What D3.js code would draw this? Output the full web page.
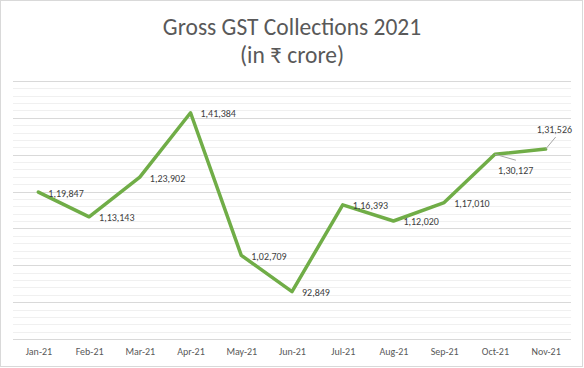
<!DOCTYPE html>
<html>
<head>
<meta charset="utf-8">
<script src="https://cdn.jsdelivr.net/npm/d3@7"></script>
<style>
  body { margin: 0; background: #fff; }
  text { font-family: Carlito, Lato, "Open Sans", sans-serif; }
</style>
</head>
<body>
<div id="wrapper"></div>
<script>
const months = ["Jan-21", "Feb-21", "Mar-21", "Apr-21", "May-21", "Jun-21", "Jul-21", "Aug-21", "Sep-21", "Oct-21", "Nov-21"];
const collections = [119847, 113143, 123902, 141384, 102709, 92849, 116393, 112020, 117010, 130127, 131526];
const titleLines = ["Gross GST Collections 2021", "(in ₹ crore)"];

// labels that Excel moved off the default "right" spot, with leader lines
const movedLabels = {
  "Oct-21": { dx: 3, dy: 16, lx: 21, ly: 6 },
  "Nov-21": { dx: -9, dy: -20, lx: 10, ly: -12 },
};

const data = months.map((m, i) => ({ month: m, value: collections[i] }));

let dimensions = {
  width: 584,
  height: 368,
  margin: { top: 81, right: 13, bottom: 29, left: 13 },
};
dimensions.boundedWidth = dimensions.width - dimensions.margin.left - dimensions.margin.right;
dimensions.boundedHeight = dimensions.height - dimensions.margin.top - dimensions.margin.bottom;

const wrapper = d3.select("#wrapper").append("svg")
  .attr("width", dimensions.width)
  .attr("height", dimensions.height);

wrapper.append("rect")
  .attr("x", 0.5).attr("y", 0.5)
  .attr("width", dimensions.width - 2).attr("height", dimensions.height - 2)
  .attr("fill", "#fff").attr("stroke", "#d9d9d9");

wrapper.append("g").selectAll("text")
  .data(titleLines)
  .join("text")
  .attr("x", dimensions.width / 2)
  .attr("y", (d, i) => 35 + i * 28)
  .attr("text-anchor", "middle")
  .attr("fill", "#595959")
  .style("font-size", "23.5px")
  .style("font-weight", 300)
  .text(d => d);

const bounds = wrapper.append("g")
  .attr("transform", `translate(${dimensions.margin.left},${dimensions.margin.top})`);

const xScale = d3.scalePoint().domain(months).range([0, dimensions.boundedWidth]).padding(0.5);
const yScale = d3.scaleLinear().domain([80000, 150000]).range([dimensions.boundedHeight, 0]);

// minor then major gridlines
bounds.append("g").selectAll("line")
  .data(d3.range(80000, 150001, 2000).filter(v => v % 10000 !== 0))
  .join("line")
  .attr("x1", 0).attr("x2", dimensions.boundedWidth)
  .attr("y1", d => Math.round(yScale(d)) + 0.5).attr("y2", d => Math.round(yScale(d)) + 0.5)
  .attr("stroke", "#f0f0f0");

bounds.append("g").selectAll("line")
  .data(yScale.ticks(7))
  .join("line")
  .attr("x1", 0).attr("x2", dimensions.boundedWidth)
  .attr("y1", d => Math.round(yScale(d)) + 0.5).attr("y2", d => Math.round(yScale(d)) + 0.5)
  .attr("stroke", "#d9d9d9");

const xAxis = bounds.append("g")
  .attr("transform", `translate(0,${dimensions.boundedHeight})`)
  .call(d3.axisBottom(xScale).tickSize(0).tickPadding(9));
xAxis.select(".domain").remove();
xAxis.selectAll("text")
  .attr("fill", "#595959")
  .style("font-size", "10px")
  .style("font-family", "Carlito, Lato, sans-serif");

const lineGenerator = d3.line()
  .x(d => xScale(d.month))
  .y(d => yScale(d.value));

bounds.append("path")
  .datum(data)
  .attr("d", lineGenerator)
  .attr("fill", "none")
  .attr("stroke", "#70ad47")
  .attr("stroke-width", 3.5)
  .attr("stroke-linejoin", "round")
  .attr("stroke-linecap", "round");

const fmt = v => v.toLocaleString("en-IN");

const labels = bounds.append("g");
data.forEach(d => {
  const x = xScale(d.month), y = yScale(d.value);
  const mv = movedLabels[d.month];
  if (mv) {
    labels.append("line")
      .attr("x1", x).attr("y1", y)
      .attr("x2", x + mv.lx).attr("y2", y + mv.ly)
      .attr("stroke", "#a6a6a6").attr("stroke-width", 1);
  }
  labels.append("text")
    .attr("x", x + (mv ? mv.dx : 10))
    .attr("y", y + (mv ? mv.dy : 1))
    .attr("dy", "0.35em")
    .attr("fill", "#404040")
    .style("font-size", "10px")
    .text(fmt(d.value));
});
</script>
</body>
</html>
